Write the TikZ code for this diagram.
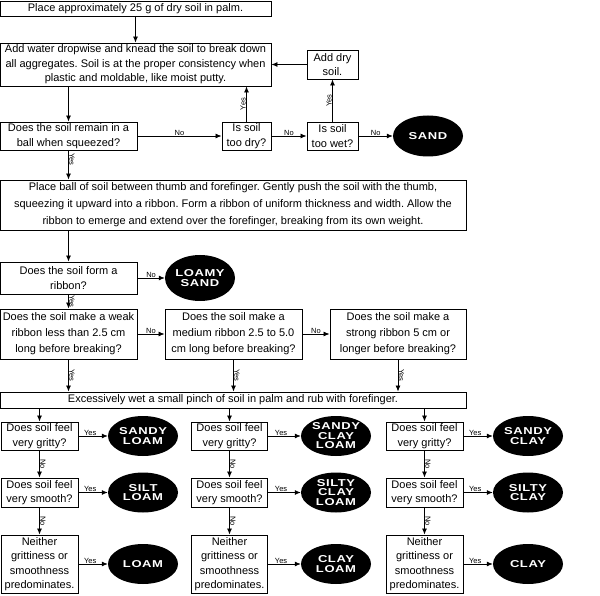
\documentclass[tikz,border=0pt]{standalone}
\usepackage{fontspec}
\setmainfont{Liberation Sans}
\newfontfamily\soilfont{Liberation Sans}[FakeStretch=1.3,LetterSpace=6]
\usetikzlibrary{arrows.meta,shapes.geometric}
\frenchspacing
\begin{document}
\begin{tikzpicture}[x=1pt, y=-1pt,
    stepbox/.style={draw, line width=0.9pt, align=center, inner sep=1pt,
      font=\fontsize{11}{14.5}\selectfont},
    soil/.style={ellipse, fill=black, text=white, inner sep=0pt, align=center,
      minimum width=70pt, minimum height=40pt,
      font=\soilfont\bfseries\fontsize{10}{9.5}\selectfont},
    flow/.style={line width=0.8pt, -{Latex[length=6pt,width=5pt]}},
    tag/.style={font=\fontsize{7.5}{8}\selectfont, inner sep=0.5pt}]
      \useasboundingbox (0,0) rectangle (600,596);
      %
      % wetting the soil
      \node[stepbox, minimum width=271pt, minimum height=15pt] (place) at (135.5,8.5)
        {Place approximately 25 g of dry soil in palm.};
      \node[stepbox, minimum width=271pt, minimum height=43pt] (water) at (135.5,64.5)
        {Add water dropwise and knead the soil to break down\\all aggregates. Soil is at the proper consistency when\\plastic and moldable, like moist putty.};
      \node[stepbox, minimum width=137pt, minimum height=28pt] (ball) at (68.5,136)
        {Does the soil remain in a\\ball when squeezed?};
      \node[stepbox, minimum width=49pt, minimum height=28pt] (dry) at (246.5,136)
        {Is soil\\too dry?};
      \node[stepbox, minimum width=51pt, minimum height=28pt] (wet) at (332.5,136)
        {Is soil\\too wet?};
      \node[stepbox, minimum width=51pt, minimum height=29pt] (adddry) at (332.5,64.5)
        {Add dry\\soil.};
      \node[soil, minimum height=41pt] (sand) at (428,136) {SAND};
      %
      \draw[flow] (place) -- (water);
      \draw[flow] (water.south -| ball.north) -- (ball);
      \draw[flow] (ball) -- node[tag, above] {No} (dry);
      \draw[flow] (dry) -- node[tag, above] {No} (wet);
      \draw[flow] (wet) -- node[tag, above] {No} (sand);
      \draw[flow] (dry.north) -- node[tag, sloped, above] {Yes} (dry.north |- water.south);
      \draw[flow] (wet) -- node[tag, sloped, above] {Yes} (adddry);
      \draw[flow] (adddry.west) -- (adddry.west -| water.east);
      %
      % ribbon test
      \node[stepbox, minimum width=466pt, minimum height=50pt,
        font=\fontsize{11}{17}\selectfont] (ribbon) at (233,205)
        {Place ball of soil between thumb and forefinger. Gently push the soil with the thumb,\\squeezing it upward into a ribbon. Form a ribbon of uniform thickness and width. Allow the\\ribbon to emerge and extend over the forefinger, breaking from its own weight.};
      \node[stepbox, minimum width=137pt, minimum height=32pt] (form) at (68.5,278)
        {Does the soil form a\\ribbon?};
      \node[soil, minimum height=46pt] (loamysand) at (200,278) {LOAMY\\SAND};
      \node[stepbox, minimum width=137pt, minimum height=50pt,
        font=\fontsize{11}{16}\selectfont] (weak) at (68.5,334)
        {Does the soil make a weak\\ribbon less than 2.5 cm\\long before breaking?};
      \node[stepbox, minimum width=137pt, minimum height=50pt,
        font=\fontsize{11}{16}\selectfont] (medium) at (233.5,334)
        {Does the soil make a\\medium ribbon 2.5 to 5.0\\cm long before breaking?};
      \node[stepbox, minimum width=136pt, minimum height=50pt,
        font=\fontsize{11}{16}\selectfont] (strong) at (398,334)
        {Does the soil make a\\strong ribbon 5 cm or\\longer before breaking?};
      \node[stepbox, minimum width=466pt, minimum height=16pt] (pinch) at (233,400)
        {Excessively wet a small pinch of soil in palm and rub with forefinger.};
      %
      \draw[flow] (ball) -- node[tag, sloped, above, pos=0.3] {Yes} (ball.south |- ribbon.north);
      \draw[flow] (ribbon.south -| form.north) -- (form);
      \draw[flow] (form) -- node[tag, above] {No} (loamysand);
      \draw[flow] (form) -- node[tag, sloped, above] {Yes} (weak);
      \draw[flow] (weak) -- node[tag, above] {No} (medium);
      \draw[flow] (medium) -- node[tag, above] {No} (strong);
      \draw[flow] (weak) -- node[tag, sloped, above] {Yes} (weak.south |- pinch.north);
      \draw[flow] (medium) -- node[tag, sloped, above] {Yes} (medium.south |- pinch.north);
      \draw[flow] (strong) -- node[tag, sloped, above] {Yes} (strong.south |- pinch.north);
      %
      % feel test, one column per ribbon
      \foreach \n/\cx/\w/\ex/\ta/\tb/\tc in {
          a/39.5/77/143/{SANDY\\LOAM}/{SILT\\LOAM}/{LOAM},
          b/229.5/76/336/{SANDY\\CLAY\\LOAM}/{SILTY\\CLAY\\LOAM}/{CLAY\\LOAM},
          c/424.5/77/528/{SANDY\\CLAY}/{SILTY\\CLAY}/{CLAY}} {
        \node[stepbox, minimum width=\w pt, minimum height=28pt] (grit\n) at (\cx,436)
          {Does soil feel\\very gritty?};
        \node[stepbox, minimum width=\w pt, minimum height=29pt] (smooth\n) at (\cx,492.5)
          {Does soil feel\\very smooth?};
        \node[stepbox, minimum width=\w pt, minimum height=58pt] (neither\n) at (\cx,564)
          {Neither\\grittiness or\\smoothness\\predominates.};
        \node[soil] (sa\n) at (\ex,436) {\ta};
        \node[soil] (sb\n) at (\ex,492.5) {\tb};
        \node[soil] (sc\n) at (\ex,564) {\tc};
        %
        \draw[flow] (pinch.south -| grit\n.north) -- (grit\n);
        \draw[flow] (grit\n) -- node[tag, sloped, above] {No} (smooth\n);
        \draw[flow] (smooth\n) -- node[tag, sloped, above] {No} (neither\n);
        \draw[flow] (grit\n) -- node[tag, above, pos=0.4] {Yes} (sa\n);
        \draw[flow] (smooth\n) -- node[tag, above, pos=0.4] {Yes} (sb\n);
        \draw[flow] (neither\n) -- node[tag, above, pos=0.4] {Yes} (sc\n);
      }
    \end{tikzpicture}
\end{document}
